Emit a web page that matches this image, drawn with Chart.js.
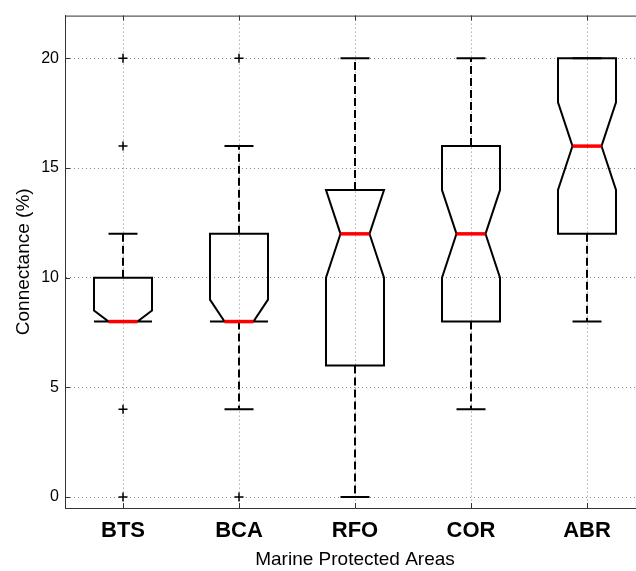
<!DOCTYPE html>
<html lang="en">
<head>
<meta charset="UTF-8">
<title>Connectance | Marine Protected Areas</title>
<script src="https://cdn.jsdelivr.net/npm/chart.js@4"></script>
<style>
    html, body { margin: 0; padding: 0; background: #fff; overflow: hidden; }
    /* axes box runs past the right edge of the window, like the original figure */
    .wrap { position: relative; width: 660px; height: 571px; }
</style>
</head>
<body>
<div class="wrap"><canvas id="boxChart"></canvas></div>
<script>
    // values (%)
    const areas = ['BTS', 'BCA', 'RFO', 'COR', 'ABR'];
    const q1 = [8, 8, 6, 8, 12];
    const medians = [8, 8, 12, 12, 16];
    const q3 = [10, 12, 14, 16, 20];
    const notchLow = [7.5, 7, 10, 10, 14];
    const notchHigh = [8.5, 9, 14, 14, 18];
    const whiskerLow = [8, 4, 0, 4, 8];
    const whiskerHigh = [12, 16, 20, 20, 20];
    const outliers = [[20, 16, 4, 0], [20, 0], [], [], []];
    const yTicks = [0, 5, 10, 15, 20];

    const outlierPoints = [];
    outliers.forEach((list, i) => list.forEach(v => outlierPoints.push({ x: areas[i], y: v })));

    const BOX_HALF = 0.25;   // in category units
    const CAP_HALF = 0.125;

    // draws the notched boxes, whiskers and the inward tick marks / top border
    const boxPlot = {
        id: 'boxPlot',
        beforeDatasetsDraw(chart) {
            const { ctx, chartArea: a, scales: { x, y } } = chart;
            const unit = x.getPixelForValue(1) - x.getPixelForValue(0);
            const bw = BOX_HALF * unit;
            const cw = CAP_HALF * unit;

            ctx.save();
            areas.forEach((name, i) => {
                const cx = x.getPixelForValue(i);
                const yq1 = y.getPixelForValue(q1[i]);
                const yq3 = y.getPixelForValue(q3[i]);
                const ym = y.getPixelForValue(medians[i]);
                const nLo = y.getPixelForValue(Math.max(notchLow[i], q1[i]));
                const nHi = y.getPixelForValue(Math.min(notchHigh[i], q3[i]));
                const wLo = y.getPixelForValue(whiskerLow[i]);
                const wHi = y.getPixelForValue(whiskerHigh[i]);

                // whiskers (dashed)
                ctx.strokeStyle = '#000';
                ctx.lineWidth = 2;
                ctx.setLineDash([8, 4]);
                ctx.beginPath();
                if (whiskerHigh[i] > q3[i]) { ctx.moveTo(cx, yq3); ctx.lineTo(cx, wHi); }
                if (whiskerLow[i] < q1[i]) { ctx.moveTo(cx, yq1); ctx.lineTo(cx, wLo); }
                ctx.stroke();
                ctx.setLineDash([]);

                // caps
                ctx.beginPath();
                ctx.moveTo(cx - cw, wHi); ctx.lineTo(cx + cw, wHi);
                ctx.moveTo(cx - cw, wLo); ctx.lineTo(cx + cw, wLo);
                ctx.stroke();

                // notched box
                ctx.lineJoin = 'miter';
                ctx.beginPath();
                ctx.moveTo(cx - bw, yq1);
                ctx.lineTo(cx - bw, nLo);
                ctx.lineTo(cx - bw / 2, ym);
                ctx.lineTo(cx - bw, nHi);
                ctx.lineTo(cx - bw, yq3);
                ctx.lineTo(cx + bw, yq3);
                ctx.lineTo(cx + bw, nHi);
                ctx.lineTo(cx + bw / 2, ym);
                ctx.lineTo(cx + bw, nLo);
                ctx.lineTo(cx + bw, yq1);
                ctx.closePath();
                ctx.stroke();

                // median
                ctx.strokeStyle = '#ff0000';
                ctx.lineWidth = 3.5;
                ctx.beginPath();
                ctx.moveTo(cx - bw / 2, ym);
                ctx.lineTo(cx + bw / 2, ym);
                ctx.stroke();
            });

            // box top edge and inward tick marks (matlab style)
            ctx.strokeStyle = '#333';
            ctx.lineWidth = 1;
            ctx.beginPath();
            ctx.moveTo(a.left, a.top + 0.5);
            ctx.lineTo(a.right, a.top + 0.5);
            areas.forEach((n, i) => {
                const px = Math.round(x.getPixelForValue(i)) + 0.5;
                ctx.moveTo(px, a.bottom); ctx.lineTo(px, a.bottom - 5);
                ctx.moveTo(px, a.top); ctx.lineTo(px, a.top + 5);
            });
            yTicks.forEach(v => {
                const py = Math.round(y.getPixelForValue(v)) + 0.5;
                ctx.moveTo(a.left, py); ctx.lineTo(a.left + 5, py);
                ctx.moveTo(a.right, py); ctx.lineTo(a.right - 5, py);
            });
            ctx.stroke();
            ctx.restore();
        }
    };

    const ctx = document.getElementById('boxChart').getContext('2d');

    const chart = new Chart(ctx, {
        type: 'scatter',
        data: {
            labels: areas,
            datasets: [{
                data: outlierPoints,
                pointStyle: 'cross',
                pointRadius: 4.5,
                pointBorderWidth: 1.5,
                borderColor: '#000',
                backgroundColor: '#000'
            }]
        },
        options: {
            responsive: true,
            maintainAspectRatio: false,
            animation: false,
            layout: { padding: { top: 8, right: 15, left: 0, bottom: 0 } },
            plugins: {
                legend: { display: false },
                tooltip: { enabled: false }
            },
            scales: {
                x: {
                    type: 'category',
                    labels: areas,
                    offset: true,
                    afterFit: (s) => { s.height = 63; },
                    grid: { offset: false, color: '#888', lineWidth: 1, drawTicks: false },
                    border: { display: true, color: '#333', width: 1, dash: [1, 3] },
                    ticks: {
                        color: '#000',
                        padding: 10,
                        font: { family: "'Liberation Sans', Arial, sans-serif", size: 22, weight: 'bold' }
                    },
                    title: {
                        display: true,
                        text: 'Marine Protected Areas',
                        color: '#000',
                        padding: { top: 0, bottom: 0 },
                        font: { family: "'Liberation Sans', Arial, sans-serif", size: 19 }
                    }
                },
                y: {
                    min: -0.5,
                    max: 21.95,
                    afterFit: (s) => { s.width = 65; },
                    afterBuildTicks: (s) => { s.ticks = yTicks.map(v => ({ value: v })); },
                    grid: { color: '#888', lineWidth: 1, drawTicks: false },
                    border: { display: true, color: '#333', width: 1, dash: [1, 3] },
                    ticks: {
                        color: '#000',
                        padding: 6,
                        font: { family: "'Liberation Sans', Arial, sans-serif", size: 16 }
                    },
                    title: {
                        display: true,
                        text: 'Connectance (%)',
                        color: '#000',
                        padding: { top: 12, bottom: 0 },
                        font: { family: "'Liberation Sans', Arial, sans-serif", size: 19 }
                    }
                }
            }
        },
        plugins: [boxPlot]
    });
</script>
</body>
</html>
